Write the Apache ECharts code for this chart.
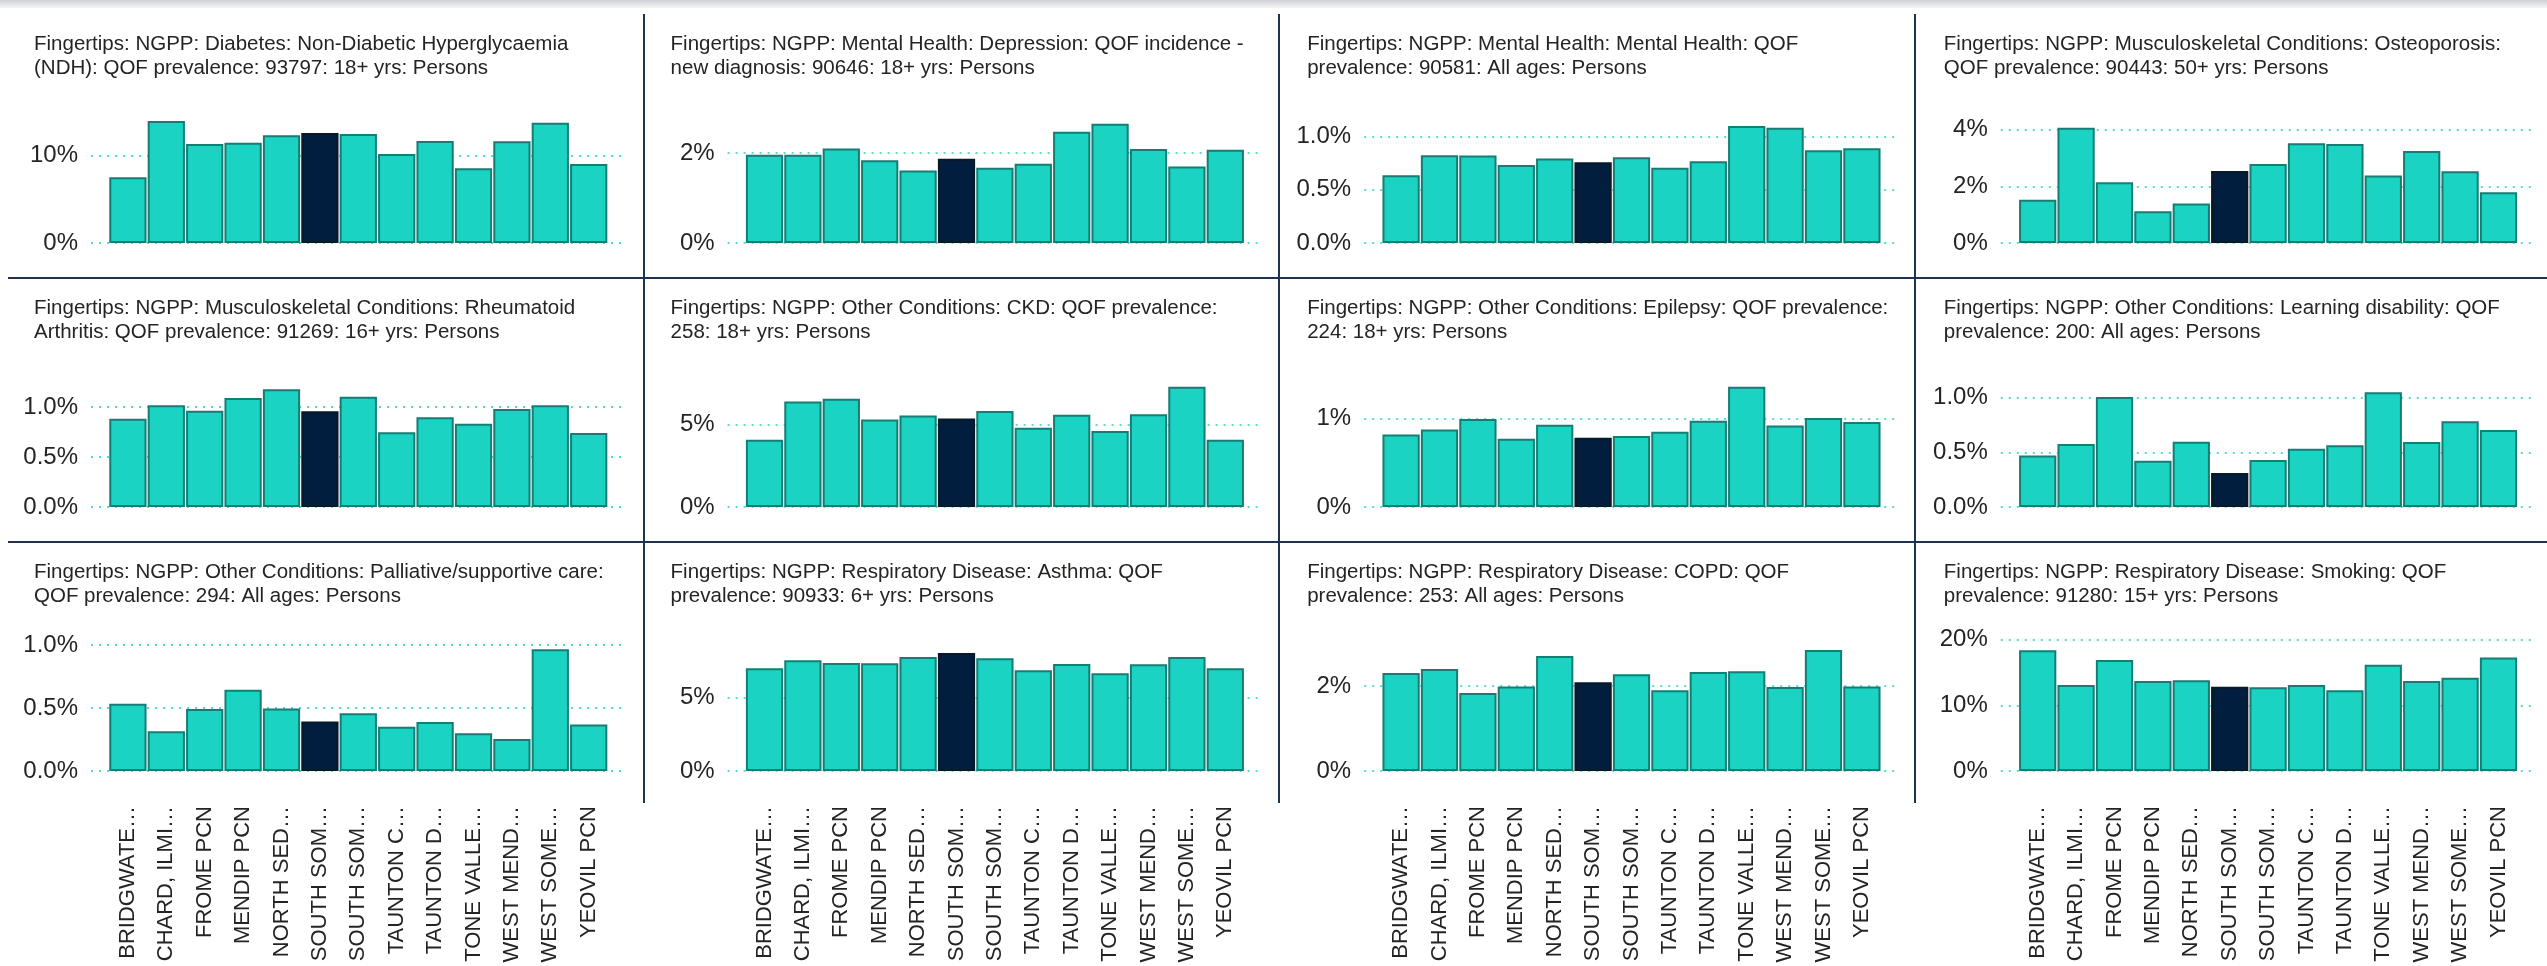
<!DOCTYPE html>
<html><head><meta charset="utf-8">
<style>html,body{margin:0;padding:0;background:#fff}#c{width:2547px;height:966px}</style>
<script src="https://cdn.jsdelivr.net/npm/echarts@6/dist/echarts.min.js"></script>
</head><body><div id="c"></div>
<script>
// ---------- data ----------
const categories = ['BRIDGWATE…','CHARD, ILMI…','FROME PCN','MENDIP PCN','NORTH SED…','SOUTH SOM…','SOUTH SOM…','TAUNTON C…','TAUNTON D…','TONE VALLE…','WEST MEND…','WEST SOME…','YEOVIL PCN'];
const highlightIndex = 5;

const titles = [
  'Fingertips: NGPP: Diabetes: Non-Diabetic Hyperglycaemia\n(NDH): QOF prevalence: 93797: 18+ yrs: Persons',
  'Fingertips: NGPP: Mental Health: Depression: QOF incidence -\nnew diagnosis: 90646: 18+ yrs: Persons',
  'Fingertips: NGPP: Mental Health: Mental Health: QOF\nprevalence: 90581: All ages: Persons',
  'Fingertips: NGPP: Musculoskeletal Conditions: Osteoporosis:\nQOF prevalence: 90443: 50+ yrs: Persons',
  'Fingertips: NGPP: Musculoskeletal Conditions: Rheumatoid\nArthritis: QOF prevalence: 91269: 16+ yrs: Persons',
  'Fingertips: NGPP: Other Conditions: CKD: QOF prevalence:\n258: 18+ yrs: Persons',
  'Fingertips: NGPP: Other Conditions: Epilepsy: QOF prevalence:\n224: 18+ yrs: Persons',
  'Fingertips: NGPP: Other Conditions: Learning disability: QOF\nprevalence: 200: All ages: Persons',
  'Fingertips: NGPP: Other Conditions: Palliative/supportive care:\nQOF prevalence: 294: All ages: Persons',
  'Fingertips: NGPP: Respiratory Disease: Asthma: QOF\nprevalence: 90933: 6+ yrs: Persons',
  'Fingertips: NGPP: Respiratory Disease: COPD: QOF\nprevalence: 253: All ages: Persons',
  'Fingertips: NGPP: Respiratory Disease: Smoking: QOF\nprevalence: 91280: 15+ yrs: Persons'
];

const diabetesNDH      = [7.49,13.92,11.29,11.44,12.28,12.55,12.43,10.15,11.63,8.52,11.60,13.73,9.01];
const depressionInc    = [1.96,1.96,2.10,1.84,1.61,1.87,1.67,1.76,2.47,2.65,2.09,1.70,2.07];
const mentalHealth     = [0.634,0.822,0.819,0.731,0.791,0.756,0.803,0.706,0.766,1.097,1.081,0.869,0.888];
const osteoporosis     = [1.53,4.07,2.14,1.12,1.39,2.54,2.79,3.52,3.49,2.38,3.25,2.53,1.79];
const rheumatoid       = [0.883,1.017,0.963,1.09,1.177,0.957,1.103,0.747,0.897,0.833,0.98,1.017,0.74];
const ckd              = [4.07,6.39,6.55,5.30,5.54,5.36,5.81,4.80,5.58,4.60,5.62,7.28,4.07];
const epilepsy         = [0.823,0.879,0.996,0.774,0.932,0.785,0.804,0.853,0.977,1.362,0.925,1.008,0.962];
const learningDis      = [0.47,0.576,1.006,0.424,0.598,0.311,0.43,0.534,0.564,1.049,0.595,0.784,0.704];
const palliative       = [0.534,0.315,0.492,0.645,0.495,0.392,0.458,0.352,0.389,0.299,0.254,0.966,0.368];
const asthma           = [7.0,7.55,7.36,7.34,7.77,8.05,7.68,6.86,7.30,6.66,7.27,7.77,7.0];
const copd             = [2.31,2.40,1.84,1.99,2.71,2.09,2.28,1.90,2.33,2.35,1.98,2.85,1.99];
const smoking          = [18.38,13.1,16.9,13.71,13.81,12.84,12.74,13.1,12.28,16.19,13.71,14.21,17.26];

const panelValues = [diabetesNDH, depressionInc, mentalHealth, osteoporosis, rheumatoid, ckd, epilepsy, learningDis, palliative, asthma, copd, smoking];

// axis ranges / ticks (percent)
const yMax      = [15.4, 3.0, 1.265, 4.765, 1.35, 8.17, 1.53, 1.235, 1.071, 9.2, 3.18, 20.55];
const yInterval = [10, 2, 0.5, 2, 0.5, 5, 1, 0.5, 0.5, 5, 2, 10];
const yDecimals = [0, 0, 1, 0, 1, 0, 0, 1, 1, 0, 0, 0];

// ---------- layout ----------
const FONT = 'Liberation Sans, Arial, sans-serif';
const TEXT = '#252423';
const panelW = 636.6;
const rowTop = [14, 278, 542];
const plotH = 135, baseOff = 229;

const teal = {color:'#1AD3C3', borderColor:'#157d74', borderWidth:2};
const dark = {color:'#011E3E', borderColor:'#0b1826', borderWidth:2};

const option = {animation:false, backgroundColor:'#fff', title:[], grid:[], xAxis:[], yAxis:[], series:[], graphic:[]};

panelValues.forEach((vals, i) => {
  const col = i % 4, row = Math.floor(i / 4);
  const x0 = col * panelW;
  const top = rowTop[row] + baseOff - plotH;
  option.title.push({
    text: titles[i], left: x0 + 34, top: rowTop[row] + 18, padding: 0,
    textStyle: {fontFamily: FONT, fontSize: 20.5, fontWeight: 'normal', lineHeight: 24, color: TEXT}
  });
  // grid for tick labels + dotted gridlines
  option.grid.push({left: x0 + 91, top: top, width: 531, height: plotH});
  // grid for bars
  option.grid.push({left: x0 + 108.7, top: top, width: 499.2, height: plotH});

  option.xAxis.push({gridIndex: 2*i, type: 'category', data: categories, show: false});
  option.yAxis.push({
    gridIndex: 2*i, type: 'value', min: 0, max: yMax[i], interval: yInterval[i],
    axisLine: {show: false}, axisTick: {show: false},
    axisLabel: {show: true, showMaxLabel: false, margin: 13, fontSize: 24, color: TEXT, fontFamily: FONT,
      formatter: v => v.toFixed(yDecimals[i]) + '%'},
    splitLine: {show: true, showMaxLine: false, lineStyle: {color: '#1AD3C3', type: [2, 6], width: 1.5}}
  });

  option.xAxis.push({
    gridIndex: 2*i+1, type: 'category', data: categories,
    axisLine: {show: false}, axisTick: {show: false},
    axisLabel: row === 2 ? {show: true, rotate: 90, interval: 0, margin: 35, fontSize: 22, color: TEXT, fontFamily: FONT} : {show: false}
  });
  option.yAxis.push({gridIndex: 2*i+1, type: 'value', min: 0, max: yMax[i], show: false, splitLine: {show: false}});

  option.series.push({
    type: 'bar', xAxisIndex: 2*i+1, yAxisIndex: 2*i+1, barCategoryGap: '3%', silent: true,
    data: vals.map((v, j) => ({value: v, itemStyle: j === highlightIndex ? dark : teal}))
  });
});

// decorations: top shadow band, divider lines
option.graphic.push({type:'rect', shape:{x:0, y:0, width:2547, height:8},
  style:{fill: new echarts.graphic.LinearGradient(0,0,0,1,[{offset:0,color:'#cdd0d5'},{offset:1,color:'#f6f6f6'}])}, silent:true});
[644, 1279, 1915].forEach(x => option.graphic.push({type:'line', shape:{x1:x, y1:14, x2:x, y2:803}, style:{stroke:'#1f3350', lineWidth:2}, silent:true}));
[278, 542].forEach(y => option.graphic.push({type:'line', shape:{x1:8, y1:y, x2:2547, y2:y}, style:{stroke:'#1f3350', lineWidth:2}, silent:true}));

const chart = echarts.init(document.getElementById('c'), null, {renderer:'canvas', width:2547, height:966});
chart.setOption(option);
</script>
</body></html>
